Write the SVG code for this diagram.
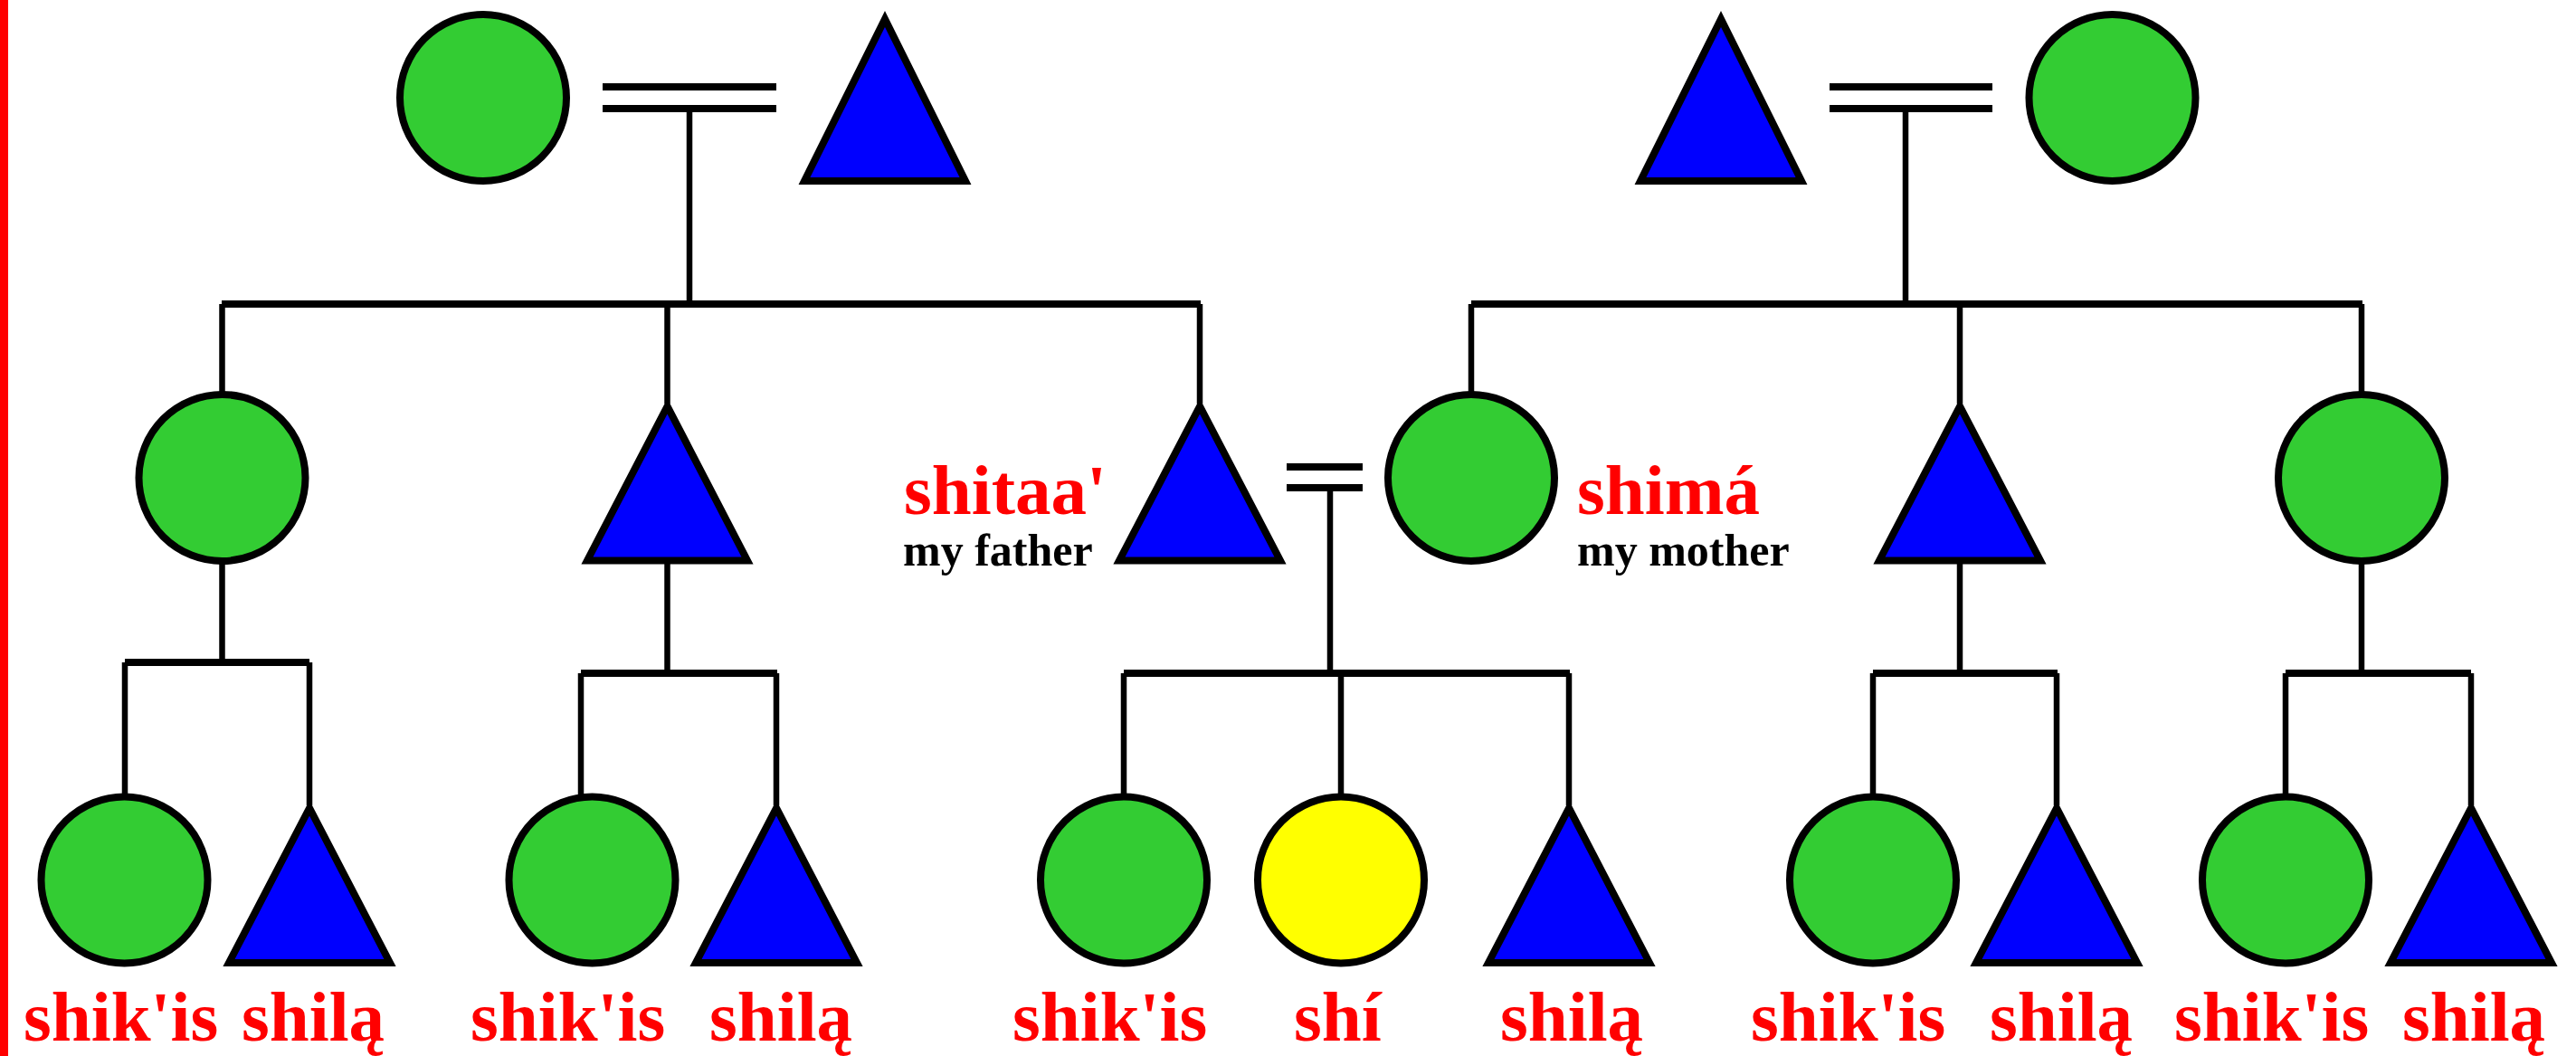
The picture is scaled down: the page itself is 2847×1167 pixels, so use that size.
<svg xmlns="http://www.w3.org/2000/svg" width="2847" height="1167" viewBox="0 0 2847 1167">
<style>
.f{fill:#33CC33;stroke:#000;stroke-width:8}
.y{fill:#FFFF00;stroke:#000;stroke-width:8}
.m{fill:#0000FF;stroke:#000;stroke-width:8;stroke-linejoin:miter;stroke-miterlimit:10}
.v{stroke:#000;stroke-width:6.5;fill:none}
.h{stroke:#000;stroke-width:8;fill:none}
.t{font-family:"Liberation Serif","Times New Roman",serif;font-weight:bold;font-size:79px;fill:#FF0000}
.s{font-family:"Liberation Serif","Times New Roman",serif;font-weight:bold;font-size:50px;fill:#000}
</style>
<rect x="0" y="0" width="2847" height="1167" fill="#fff"/>
<rect x="0" y="0" width="9" height="1167" fill="#FF0000"/>
<g id="connectors">
<!-- top left couple -->
<line class="h" x1="666" y1="96" x2="858" y2="96"/>
<line class="h" x1="666" y1="120" x2="858" y2="120"/>
<line class="v" x1="762" y1="120" x2="762" y2="336"/>
<line class="h" x1="245" y1="336" x2="1327" y2="336"/>
<line class="v" x1="245.5" y1="336" x2="245.5" y2="436"/>
<line class="v" x1="737.5" y1="336" x2="737.5" y2="446"/>
<line class="v" x1="1326" y1="336" x2="1326" y2="446"/>
<!-- top right couple -->
<line class="h" x1="2022" y1="96" x2="2202" y2="96"/>
<line class="h" x1="2022" y1="120" x2="2202" y2="120"/>
<line class="v" x1="2106" y1="120" x2="2106" y2="336"/>
<line class="h" x1="1626" y1="336" x2="2611" y2="336"/>
<line class="v" x1="1626" y1="336" x2="1626" y2="436"/>
<line class="v" x1="2166" y1="336" x2="2166" y2="446"/>
<line class="v" x1="2610" y1="336" x2="2610" y2="436"/>
<!-- family 1 -->
<line class="v" x1="245.5" y1="620" x2="245.5" y2="732"/>
<line class="h" x1="138" y1="732" x2="342" y2="732"/>
<line class="v" x1="138" y1="732" x2="138" y2="881"/>
<line class="v" x1="342" y1="732" x2="342" y2="890"/>
<!-- family 2 -->
<line class="v" x1="737.5" y1="618" x2="737.5" y2="744"/>
<line class="h" x1="642" y1="744" x2="859" y2="744"/>
<line class="v" x1="642" y1="744" x2="642" y2="881"/>
<line class="v" x1="858" y1="744" x2="858" y2="890"/>
<!-- ego family -->
<line class="h" x1="1422" y1="516" x2="1506" y2="516"/>
<line class="h" x1="1422" y1="539" x2="1506" y2="539"/>
<line class="v" x1="1470" y1="539" x2="1470" y2="744"/>
<line class="h" x1="1242" y1="744" x2="1735" y2="744"/>
<line class="v" x1="1242" y1="744" x2="1242" y2="881"/>
<line class="v" x1="1482" y1="744" x2="1482" y2="881"/>
<line class="v" x1="1734" y1="744" x2="1734" y2="890"/>
<!-- family 4 -->
<line class="v" x1="2166" y1="618" x2="2166" y2="744"/>
<line class="h" x1="2070" y1="744" x2="2274" y2="744"/>
<line class="v" x1="2070" y1="744" x2="2070" y2="881"/>
<line class="v" x1="2273" y1="744" x2="2273" y2="890"/>
<!-- family 5 -->
<line class="v" x1="2610" y1="620" x2="2610" y2="744"/>
<line class="h" x1="2526" y1="744" x2="2731" y2="744"/>
<line class="v" x1="2526" y1="744" x2="2526" y2="881"/>
<line class="v" x1="2731" y1="744" x2="2731" y2="890"/>
</g>
<!-- generation 1 -->
<g id="gp-pat-f"><circle class="f" cx="534" cy="108" r="92"/></g>
<g id="gp-pat-m"><polygon class="m" points="978,21 889,200 1067,200"/></g>
<g id="gp-mat-m"><polygon class="m" points="1902,21 1813,200 1991,200"/></g>
<g id="gp-mat-f"><circle class="f" cx="2334.5" cy="108" r="92"/></g>
<!-- generation 2 -->
<g id="fz"><circle class="f" cx="245.5" cy="528" r="92"/></g>
<g id="fb"><polygon class="m" points="737.5,449 649,619.5 826,619.5"/></g>
<g id="father"><polygon class="m" points="1326,449 1237,619.5 1415,619.5"/>
<text class="t" x="999" y="568">shitaa'</text>
<text class="s" x="998" y="625">my father</text></g>
<g id="mother"><circle class="f" cx="1626" cy="528" r="92"/>
<text class="t" x="1743" y="568">shimá</text>
<text class="s" x="1743" y="625">my mother</text></g>
<g id="mb"><polygon class="m" points="2166,449 2077,619.5 2255,619.5"/></g>
<g id="mz"><circle class="f" cx="2610" cy="528" r="92"/></g>
<!-- generation 3 -->
<g id="c1"><circle class="f" cx="137.5" cy="972.5" r="92"/><text class="t" x="26" y="1150">shik'is</text></g>
<g id="c2"><polygon class="m" points="342,893 253,1064 431,1064"/><text class="t" x="267" y="1150">shilą</text></g>
<g id="c3"><circle class="f" cx="654.5" cy="972.5" r="92"/><text class="t" x="520" y="1150">shik'is</text></g>
<g id="c4"><polygon class="m" points="858,893 769,1064 947,1064"/><text class="t" x="784" y="1150">shilą</text></g>
<g id="sister"><circle class="f" cx="1242" cy="972.5" r="92"/><text class="t" x="1119" y="1150">shik'is</text></g>
<g id="ego"><circle class="y" cx="1482" cy="972.5" r="92"/><text class="t" x="1430" y="1150">shí</text></g>
<g id="brother"><polygon class="m" points="1734,893 1645,1064 1823,1064"/><text class="t" x="1658" y="1150">shilą</text></g>
<g id="c5"><circle class="f" cx="2070" cy="972.5" r="92"/><text class="t" x="1935" y="1150">shik'is</text></g>
<g id="c6"><polygon class="m" points="2273,893 2184,1064 2362,1064"/><text class="t" x="2199" y="1150">shilą</text></g>
<g id="c7"><circle class="f" cx="2526" cy="972.5" r="92"/><text class="t" x="2403" y="1150">shik'is</text></g>
<g id="c8"><polygon class="m" points="2731,893 2642,1064 2820,1064"/><text class="t" x="2655" y="1150">shilą</text></g>
</svg>
